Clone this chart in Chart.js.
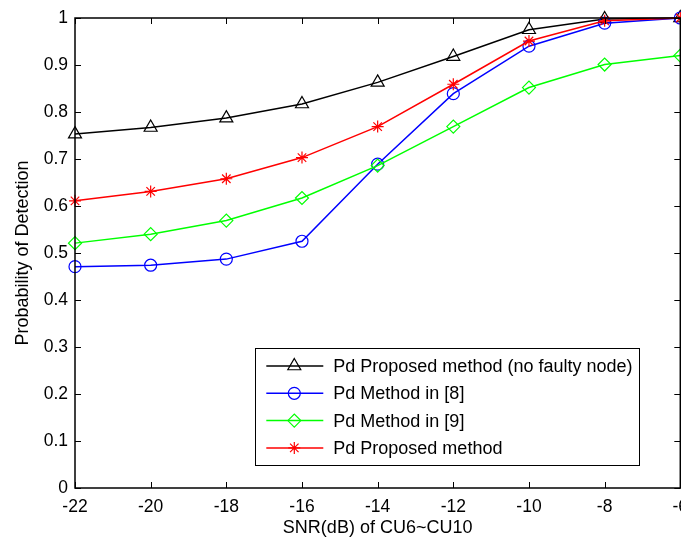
<!DOCTYPE html>
<html><head><meta charset="utf-8">
<script src="https://cdn.jsdelivr.net/npm/chart.js@4/dist/chart.umd.min.js"></script>
<style>
html,body{margin:0;padding:0;background:#fff;overflow:hidden;width:681px;height:537px}
#c{position:absolute;left:0;top:0;display:block}
</style>
</head><body>
<canvas id="c" width="689" height="537" style="width:689px;height:537px"></canvas>
<script>
// ---- data ----
const snr = [-22, -20, -18, -16, -14, -12, -10, -8, -6];
const pdNoFaulty = [0.753, 0.767, 0.787, 0.817, 0.863, 0.918, 0.975, 0.998, 1.0];
const pdMethod8  = [0.471, 0.474, 0.487, 0.525, 0.689, 0.839, 0.940, 0.989, 1.0];
const pdMethod9  = [0.521, 0.540, 0.569, 0.617, 0.686, 0.769, 0.852, 0.901, 0.920];
const pdProposed = [0.611, 0.631, 0.658, 0.703, 0.769, 0.859, 0.951, 0.994, 1.0];
const seriesLabels = [
  'Pd Proposed method (no faulty node)',
  'Pd Method in [8]',
  'Pd Method in [9]',
  'Pd Proposed method'
];
const xTickValues = [-22, -20, -18, -16, -14, -12, -10, -8, -6];
const yTickValues = [0, 0.1, 0.2, 0.3, 0.4, 0.5, 0.6, 0.7, 0.8, 0.9, 1];
const xTitle = 'SNR(dB) of CU6~CU10';
const yTitle = 'Probability of Detection';

// ---- styles ----
const FONT = 'Liberation Sans, Arial, sans-serif';
const styles = [
  {color: '#000000', pointStyle: 'triangle', radius: 7.5, order: 3},
  {color: '#0000ff', pointStyle: 'circle',   radius: 6,   order: 2},
  {color: '#00ff00', pointStyle: 'rectRot',  radius: 6.5, order: 1},
  {color: '#ff0000', pointStyle: 'star',     radius: 6,   order: 0}
];
const seriesValues = [pdNoFaulty, pdMethod8, pdMethod9, pdProposed];

const datasets = seriesValues.map((vals, i) => ({
  label: seriesLabels[i],
  data: snr.map((x, j) => ({x: x, y: vals[j]})),
  borderColor: styles[i].color,
  backgroundColor: 'rgba(0,0,0,0)',
  borderWidth: 1.5,
  pointStyle: styles[i].pointStyle,
  pointRadius: styles[i].radius,
  pointHoverRadius: styles[i].radius,
  pointBorderWidth: 1.2,
  pointBorderColor: styles[i].color,
  pointBackgroundColor: 'rgba(0,0,0,0)',
  tension: 0,
  order: styles[i].order,
  clip: false
}));

const boxPlugin = {
  id: 'matlabBox',
  afterDatasetsDraw(chart) {
    const {ctx, chartArea: a, scales} = chart;
    ctx.save();
    ctx.strokeStyle = '#000';
    ctx.lineWidth = 1.5;
    ctx.strokeRect(a.left, a.top, a.right - a.left, a.bottom - a.top);
    ctx.lineWidth = 1;
    const tl = 6;
    ctx.beginPath();
    xTickValues.forEach(v => {
      const px = Math.round(scales.x.getPixelForValue(v)) + 0.5;
      ctx.moveTo(px, a.bottom); ctx.lineTo(px, a.bottom - tl);
      ctx.moveTo(px, a.top); ctx.lineTo(px, a.top + tl);
    });
    yTickValues.forEach(v => {
      const py = Math.round(scales.y.getPixelForValue(v)) + 0.5;
      ctx.moveTo(a.left, py); ctx.lineTo(a.left + tl, py);
      ctx.moveTo(a.right, py); ctx.lineTo(a.right - tl, py);
    });
    ctx.stroke();
    ctx.restore();
  },
  afterDraw(chart) {
    const {ctx, chartArea: a} = chart;
    const right = a.right - 41, bottom = a.bottom - 23;
    const w = 384, h = 117;
    const left = right - w, top = bottom - h;
    ctx.save();
    ctx.fillStyle = '#fff';
    ctx.fillRect(left, top, w, h);
    ctx.strokeStyle = '#000';
    ctx.lineWidth = 1;
    ctx.strokeRect(Math.round(left) + 0.5, Math.round(top) + 0.5, w, h);
    ctx.font = '18px ' + FONT;
    ctx.textBaseline = 'middle';
    ctx.textAlign = 'left';
    chart.data.datasets.forEach((ds, i) => {
      const y = top + 18 + i * 27.3;
      ctx.strokeStyle = ds.borderColor;
      ctx.lineWidth = 1.5;
      ctx.beginPath();
      ctx.moveTo(left + 11, y); ctx.lineTo(left + 68, y);
      ctx.stroke();
      ctx.lineWidth = 1.2;
      ctx.strokeStyle = ds.borderColor;
      ctx.fillStyle = 'rgba(0,0,0,0)';
      Chart.helpers.drawPoint(ctx, {pointStyle: ds.pointStyle, radius: ds.pointRadius, borderWidth: 1.2, rotation: 0}, left + 39, y);
      ctx.fillStyle = '#000';
      ctx.fillText(ds.label, left + 78, y + 1);
    });
    ctx.restore();
  }
};

new Chart(document.getElementById('c'), {
  type: 'line',
  data: {datasets},
  options: {
    responsive: false,
    maintainAspectRatio: false,
    devicePixelRatio: 1,
    animation: false,
    events: [],
    layout: {padding: {left: 0, top: 18, right: 2, bottom: 0}},
    plugins: {legend: {display: false}, tooltip: {enabled: false}},
    scales: {
      x: {
        type: 'linear',
        min: -22, max: -6,
        afterBuildTicks: s => { s.ticks = xTickValues.map(v => ({value: v})); },
        afterFit: s => { s.height = 49; s.paddingRight = 0; s.paddingLeft = 0; },
        grid: {display: false, drawTicks: false, tickLength: 0},
        border: {display: false},
        ticks: {color: '#000', font: {family: FONT, size: 17.5}, padding: 9, maxRotation: 0, autoSkip: false,
                callback: v => String(v)},
        title: {display: true, text: xTitle, color: '#000', font: {family: FONT, size: 18, lineHeight: 1}, padding: {top: 0, bottom: 0}}
      },
      y: {
        type: 'linear',
        min: 0, max: 1,
        afterBuildTicks: s => { s.ticks = yTickValues.map(v => ({value: v})); },
        afterFit: s => { s.width = 75; s.paddingTop = 0; s.paddingBottom = 0; },
        grid: {display: false, drawTicks: false, tickLength: 0},
        border: {display: false},
        ticks: {color: '#000', font: {family: FONT, size: 17.5}, padding: 7, autoSkip: false,
                callback: v => String(v)},
        title: {display: true, text: yTitle, color: '#000', font: {family: FONT, size: 18}, padding: {top: 12, bottom: 0}}
      }
    }
  },
  plugins: [boxPlugin]
});
</script>
</body></html>
